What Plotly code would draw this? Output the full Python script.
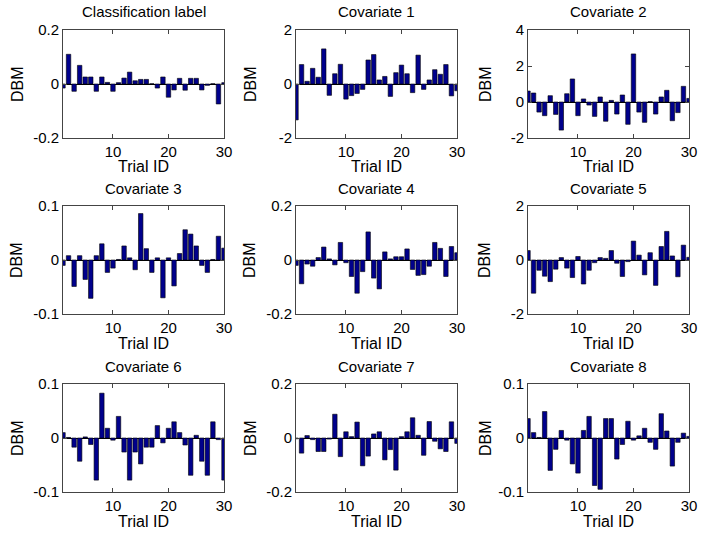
import plotly.graph_objects as go

trial_ids = [1, 2, 3, 4, 5, 6, 7, 8, 9, 10, 11, 12, 13, 14, 15,
             16, 17, 18, 19, 20, 21, 22, 23, 24, 25, 26, 27, 28, 29, 30]

classification = [-0.015, 0.11, -0.027, 0.069, 0.026, 0.026, -0.027, 0.026, 0.006, -0.027,
                  0.005, 0.022, 0.044, 0.012, 0.017, 0.017, 0.001, -0.015, 0.026, -0.049,
                  -0.022, 0.021, -0.023, 0.021, 0.021, -0.022, -0.005, 0.001, -0.074, 0.005]
cov1 = [-1.33, 0.72, 0.1, 0.58, 0.25, 1.3, -0.42, 0.38, 0.73, -0.56,
        -0.43, -0.35, -0.2, 0.89, 1.09, 0.15, 0.28, -0.46, 0.42, 0.70,
        0.38, -0.32, 1.07, -0.2, 0.15, 0.53, 0.36, 0.72, -0.44, -0.25]
cov2 = [0.61, 0.5, -0.56, -0.76, 0.35, -0.69, -1.56, 0.46, 1.28, -0.76,
        0.17, -0.17, -0.8, 0.28, -1.07, 0.09, -0.67, 0.39, -1.24, 2.67,
        -0.56, -1.13, 0.02, -0.67, 0.28, 0.65, -1.04, -0.59, 0.87, 0.2]
cov3 = [-0.01, 0.008, -0.049, 0.008, -0.036, -0.071, 0.008, 0.03, -0.023, -0.015,
        0.001, 0.026, 0.004, -0.018, 0.086, 0.021, -0.023, 0.004, -0.07, 0.004,
        -0.048, 0.012, 0.056, 0.048, 0.026, -0.01, -0.023, 0.001, 0.044, 0.022]
cov4 = [-0.02, -0.088, -0.015, -0.023, 0.009, 0.048, 0.004, -0.018, 0.065, -0.01,
        -0.061, -0.123, -0.043, 0.104, -0.067, -0.107, 0.03, 0.004, 0.012, 0.012,
        0.041, -0.035, -0.057, -0.054, -0.023, 0.065, 0.043, -0.061, 0.05, 0.027]
cov5 = [0.35, -1.23, -0.38, -0.6, -0.8, -0.34, 0.09, -0.3, -0.65, 0.13,
        -0.89, -0.38, -0.1, 0.09, 0.06, 0.35, -0.12, -0.61, -0.06, 0.7,
        0.18, -0.55, 0.27, -0.94, 0.5, 1.06, 0.15, -0.62, 0.55, 0.1]
cov6 = [0.01, 0.001, -0.017, -0.043, 0.002, -0.012, -0.078, 0.083, 0.018, -0.004,
        0.04, -0.026, -0.078, -0.026, -0.048, -0.017, -0.017, 0.023, -0.009, 0.018,
        0.03, 0.01, -0.013, -0.069, 0.005, -0.043, -0.069, 0.03, -0.003, -0.078]
cov7 = [-0.003, -0.056, 0.009, -0.006, -0.05, -0.05, -0.004, 0.088, -0.069, 0.023,
        0.005, 0.059, -0.103, -0.067, 0.015, 0.023, -0.081, -0.043, -0.119, 0.005,
        0.023, 0.075, 0.01, -0.064, 0.061, -0.012, -0.04, -0.05, 0.06, -0.02]
cov8 = [0.036, 0.01, 0.001, 0.049, -0.06, -0.021, 0.014, -0.004, -0.048, -0.065,
        0.014, 0.04, -0.088, -0.095, 0.036, 0.036, -0.039, -0.012, 0.031, -0.004,
        0.004, 0.018, -0.008, -0.021, 0.045, 0.013, -0.052, -0.008, 0.009, 0.003]

titles = ["Classification label", "Covariate 1", "Covariate 2",
          "Covariate 3", "Covariate 4", "Covariate 5",
          "Covariate 6", "Covariate 7", "Covariate 8"]
series = [classification, cov1, cov2, cov3, cov4, cov5, cov6, cov7, cov8]

y_ranges = [[-0.2, 0.2], [-2, 2], [-2, 4],
            [-0.1, 0.1], [-0.2, 0.2], [-2, 2],
            [-0.1, 0.1], [-0.2, 0.2], [-0.1, 0.1]]
y_tickvals = [[-0.2, 0, 0.2], [-2, 0, 2], [-2, 0, 2, 4],
              [-0.1, 0, 0.1], [-0.2, 0, 0.2], [-2, 0, 2],
              [-0.1, 0, 0.1], [-0.2, 0, 0.2], [-0.1, 0, 0.1]]
y_ticktext = [["-0.2", "0", "0.2"], ["-2", "0", "2"], ["-2", "0", "2", "4"],
              ["-0.1", "0", "0.1"], ["-0.2", "0", "0.2"], ["-2", "0", "2"],
              ["-0.1", "0", "0.1"], ["-0.2", "0", "0.2"], ["-0.1", "0", "0.1"]]
x_tickvals = [10, 20, 30]
x_ticktext = ["10", "20", "30"]

W, H = 704, 537
col_px = [(63, 224), (296, 457), (528, 689)]
row_px = [(30, 138), (206, 314), (384, 492)]
dbm_px = [17, 250, 485]

FONT = "Liberation Sans, Arial, Helvetica, sans-serif"
BAR_COLOR = "rgb(0,0,140)"
AX_COLOR = "#444444"

fig = go.Figure()
annotations = []
for i in range(9):
    r, c = divmod(i, 3)
    n = "" if i == 0 else str(i + 1)
    x0, x1 = col_px[c]
    yt, yb = row_px[r]
    fig.add_trace(go.Bar(x=trial_ids, y=series[i], xaxis="x" + n, yaxis="y" + n,
                         marker=dict(color=BAR_COLOR, line=dict(color="black", width=0.6)),
                         width=0.8, showlegend=False, hoverinfo="skip"))
    fig.update_layout(**{
        "xaxis" + n: dict(domain=[x0 / W, x1 / W], anchor="y" + n, range=[1, 30],
                          tickvals=x_tickvals, ticktext=x_ticktext, ticks="inside",
                          ticklen=4, tickcolor=AX_COLOR, showline=True, linecolor=AX_COLOR,
                          linewidth=1, mirror="ticks", showgrid=False, zeroline=False,
                          automargin=False,
                          tickfont=dict(family=FONT, size=15, color="black")),
        "yaxis" + n: dict(domain=[1 - yb / H, 1 - yt / H], anchor="x" + n, range=y_ranges[i],
                          tickvals=y_tickvals[i], ticktext=y_ticktext[i], ticks="inside",
                          ticklen=4, tickcolor=AX_COLOR, showline=True, linecolor=AX_COLOR,
                          linewidth=1, mirror="ticks", showgrid=False, zeroline=True,
                          zerolinecolor="black", zerolinewidth=1, automargin=False,
                          tickfont=dict(family=FONT, size=15, color="black")),
    })
    cx = (x0 + x1) / 2
    annotations.append(dict(text=titles[i], x=cx / W, y=1 - (yt - 18) / H, xref="paper",
                            yref="paper", showarrow=False, xanchor="center", yanchor="middle",
                            font=dict(family=FONT, size=15, color="black")))
    annotations.append(dict(text="Trial ID", x=cx / W, y=1 - (yb + 29) / H, xref="paper",
                            yref="paper", showarrow=False, xanchor="center", yanchor="middle",
                            font=dict(family=FONT, size=16, color="black")))
    annotations.append(dict(text="DBM", x=dbm_px[c] / W, y=1 - ((yt + yb) / 2) / H, xref="paper",
                            yref="paper", showarrow=False, xanchor="center", yanchor="middle",
                            textangle=-90, font=dict(family=FONT, size=16, color="black")))

fig.update_layout(template="none", width=W, height=H, margin=dict(l=0, r=0, t=0, b=0, pad=0),
                  paper_bgcolor="white", plot_bgcolor="white", bargap=0.2, showlegend=False,
                  hovermode=False,
                  annotations=annotations, font=dict(family=FONT, color="black"))

fig.write_html("out.html", config={"displayModeBar": False},
               post_script="document.body.style.margin='0';document.body.style.overflow='hidden';")
